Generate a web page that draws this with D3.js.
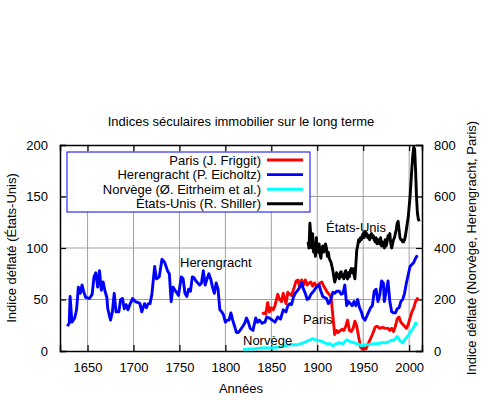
<!DOCTYPE html>
<html><head><meta charset="utf-8">
<script src="https://cdn.jsdelivr.net/npm/d3@7"></script>
<style>
html,body{margin:0;padding:0;background:#fff;}
text{font-family:"Liberation Sans",Arial,sans-serif;font-size:13px;fill:#000;}
</style></head>
<body>
<svg id="chart" width="500" height="400"></svg>
<script>
// Data (right-axis series in original index units; US on left axis)
const herengrachtYears = [1628,1630,1631,1633,1636,1638,1640,1642,1644,1646,1648,1652,1655,1657,1659,1661,1663,1665,1667,1669,1671,1672,1675,1677,1679,1681,1684,1686,1688,1690,1692,1694,1696,1699,1702,1705,1707,1709,1712,1714,1716,1718,1720,1723,1725,1728,1731,1734,1737,1739,1741,1743,1746,1749,1752,1754,1756,1758,1760,1762,1764,1766,1768,1770,1772,1774,1776,1778,1780,1782,1784,1786,1788,1790,1792,1794,1796,1798,1800,1802,1804,1806,1808,1810,1812,1814,1816,1819,1821,1823,1825,1827,1830,1833,1835,1837,1840,1843,1845,1848,1851,1854,1857,1860,1863,1866,1868,1870,1872,1874,1876,1878,1881,1883,1885,1887,1889,1891,1893,1896,1899,1902,1904,1906,1908,1910,1912,1914,1917,1919,1921,1924,1926,1928,1930,1932,1934,1936,1938,1940,1942,1944,1946,1948,1950,1952,1954,1956,1958,1960,1962,1964,1966,1968,1970,1972,1973,1975,1977,1979,1981,1983,1985,1987,1989,1991,1993,1995,1997,1999,2001,2003,2005,2007,2009];
const herengrachtValues = [96,108,212,112,128,160,248,224,256,228,208,204,220,288,304,248,312,236,268,232,208,164,120,152,224,152,152,200,204,164,180,160,180,204,192,188,184,152,184,168,184,184,220,328,280,288,356,344,312,300,192,248,232,216,288,280,224,212,240,232,288,284,272,264,256,264,312,256,280,300,280,248,224,264,240,160,152,140,112,120,120,148,120,96,72,72,80,96,108,128,112,88,80,128,112,120,108,112,132,128,120,112,132,124,160,152,176,184,180,208,224,232,248,264,240,224,200,204,220,232,248,256,232,212,208,204,184,192,228,224,232,232,220,224,256,176,192,184,176,192,176,200,168,152,128,120,136,152,168,176,232,240,192,216,272,264,192,232,272,192,152,148,148,164,168,192,200,224,264,296,328,336,344,360,372];

const parisYears = [1840,1842,1844,1846,1848,1850,1852,1854,1857,1859,1861,1863,1866,1868,1870,1872,1875,1877,1879,1881,1883,1885,1887,1889,1891,1893,1895,1897,1899,1901,1903,1905,1907,1909,1911,1913,1915,1917,1919,1921,1923,1925,1927,1929,1931,1933,1935,1937,1939,1941,1943,1945,1947,1949,1951,1953,1955,1957,1960,1963,1965,1968,1971,1974,1977,1979,1981,1983,1985,1987,1989,1991,1994,1997,1999,2001,2003,2005,2007,2009,2010];
const parisValues = [144,148,144,188,152,168,160,176,220,200,192,224,184,228,220,216,248,272,276,248,276,256,276,256,264,268,252,264,252,256,264,268,252,240,228,220,208,136,64,80,72,80,84,80,96,120,80,76,88,116,96,56,16,8,12,8,24,40,64,92,96,88,92,88,88,80,88,76,96,124,132,112,100,88,104,128,152,168,192,204,196];

const norwayYears = [1819,1825,1830,1840,1850,1860,1870,1878,1885,1890,1895,1898,1902,1906,1910,1914,1917,1920,1924,1928,1932,1936,1940,1944,1948,1952,1956,1960,1965,1970,1975,1980,1984,1987,1990,1993,1996,1999,2002,2005,2007,2009];
const norwayValues = [4,8,8,12,12,16,24,24,32,40,48,44,40,36,28,28,20,28,32,28,44,36,32,28,20,24,24,28,28,32,32,40,44,56,40,32,48,60,76,92,108,100];

const usYears = d3.range(1890, 2012);
const usValues = [106,100,124,112,100,114,96,100,92,110,98,96,104,94,90,100,102,96,98,104,100,92,96,90,88,86,82,78,72,67,70,76,72,74,70,76,77,72,74,70,76,78,72,70,76,72,78,80,76,80,74,70,84,98,102,108,106,110,108,112,114,110,116,112,114,110,112,108,112,114,110,112,108,106,110,104,108,106,104,110,102,106,104,100,108,102,106,112,110,114,104,100,104,108,110,114,118,124,126,118,110,108,108,106,106,108,112,118,124,130,140,150,164,178,190,198,196,176,150,134,128,126];

const seriesNames = ["Paris (J. Friggit)","Herengracht (P. Eicholtz)","Norvège (Ø. Eitrheim et al.)","États-Unis (R. Shiller)"];
const seriesColors = ["#ff0000","#0000ff","#00ffff","#000000"];
const leftTicks = [0,50,100,150,200];
const rightTicks = [0,200,400,600,800];
const xTicks = [1650,1700,1750,1800,1850,1900,1950,2000];

const svg = d3.select("#chart");
const L = 60, R = 422, T = 145, B = 351;
const x = d3.scaleLinear().domain([1620, 2014]).range([L, R]);
const yL = d3.scaleLinear().domain([0, 200]).range([B, T]);
const yR = d3.scaleLinear().domain([0, 800]).range([B, T]);

// grid
const g = svg.append("g");
g.selectAll(".vg").data(xTicks).enter().append("line")
  .attr("x1", d => x(d)).attr("x2", d => x(d)).attr("y1", T).attr("y2", B)
  .attr("stroke", "#a0a0a0").attr("stroke-width", 1);
g.selectAll(".hg").data(leftTicks.slice(1, -1)).enter().append("line")
  .attr("x1", L).attr("x2", R).attr("y1", d => yL(d)).attr("y2", d => yL(d))
  .attr("stroke", "#a0a0a0").attr("stroke-width", 1);

// axes with inward ticks
const axB = d3.axisBottom(x).tickValues(xTicks).tickFormat(d3.format("d")).tickSize(-6).tickPadding(12);
const axT = d3.axisTop(x).tickValues(xTicks).tickFormat("").tickSize(-6);
const axLf = d3.axisLeft(yL).tickValues(leftTicks).tickSize(-6).tickPadding(12);
const axRt = d3.axisRight(yR).tickValues(rightTicks).tickSize(-6).tickPadding(12);
function styleAxis(sel){
  sel.select(".domain").attr("stroke","#000").attr("stroke-width",1.5);
  sel.selectAll(".tick line").attr("stroke","#000").attr("stroke-width",1.2);
  sel.selectAll(".tick text").attr("font-size",13).attr("font-family","Liberation Sans, Arial, sans-serif").attr("fill","#000");
}
svg.append("g").attr("transform",`translate(0,${B})`).call(axB).call(styleAxis);
svg.append("g").attr("transform",`translate(0,${T})`).call(axT).call(styleAxis);
svg.append("g").attr("transform",`translate(${L},0)`).call(axLf).call(styleAxis);
svg.append("g").attr("transform",`translate(${R},0)`).call(axRt).call(styleAxis);

// lines
const lineR = (ys, vs) => d3.line().x((d,i) => x(ys[i])).y((d,i) => yR(vs[i]))(vs);
const lineL = (ys, vs) => d3.line().x((d,i) => x(ys[i])).y((d,i) => yL(vs[i]))(vs);
const paths = [
  lineR(parisYears, parisValues),
  lineR(herengrachtYears, herengrachtValues),
  lineR(norwayYears, norwayValues),
  lineL(usYears, usValues)
];
svg.append("clipPath").attr("id","clip").append("rect").attr("x",L).attr("y",T).attr("width",R-L).attr("height",B-T);
svg.append("g").attr("clip-path","url(#clip)").selectAll("path").data(paths).enter().append("path")
  .attr("d", d => d).attr("fill","none")
  .attr("stroke", (d,i) => seriesColors[i]).attr("stroke-width", 2.9)
  .attr("stroke-linejoin","round");

// labels in plot
const labels = [["Herengracht",180,267],["États-Unis",326,232],["Paris",303,324],["Norvège",243,345]];
svg.selectAll(".lbl").data(labels).enter().append("text")
  .attr("x", d => d[1]).attr("y", d => d[2]).text(d => d[0]);

// legend
const lg = svg.append("g");
lg.append("rect").attr("x",67).attr("y",152).attr("width",243).attr("height",60)
  .attr("fill","#fff").attr("stroke","#0000ff").attr("stroke-width",1);
seriesNames.forEach((n,i) => {
  const cy = 160 + i*14.6;
  lg.append("text").attr("x",261).attr("y",cy+4.5).attr("text-anchor","end").text(n);
  lg.append("line").attr("x1",267).attr("x2",303).attr("y1",cy).attr("y2",cy)
    .attr("stroke",seriesColors[i]).attr("stroke-width",2.9);
});

// titles
svg.append("text").attr("x",241).attr("y",126).attr("text-anchor","middle").text("Indices séculaires immobilier sur le long terme");
svg.append("text").attr("x",241).attr("y",393).attr("text-anchor","middle").text("Années");
svg.append("text").attr("transform",`translate(16,${(T+B)/2}) rotate(-90)`).attr("text-anchor","middle").text("Indice déflaté (États-Unis)");
svg.append("text").attr("transform",`translate(476,${(T+B)/2}) rotate(-90)`).attr("text-anchor","middle").text("Indice déflaté (Norvège, Herengracht, Paris)");
</script>
</body></html>
